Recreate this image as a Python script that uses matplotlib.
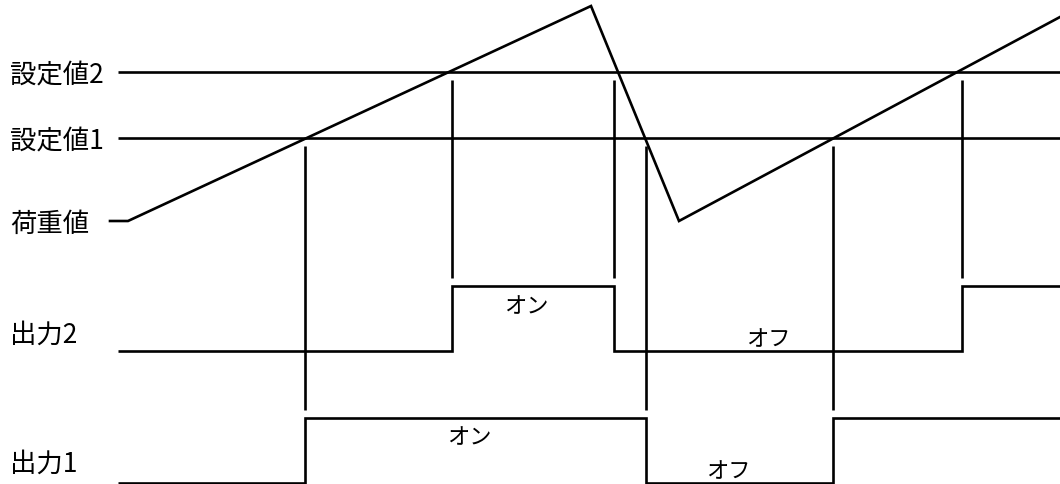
import matplotlib
matplotlib.use("Agg")
import matplotlib.pyplot as plt
import numpy as np

plt.rcParams['font.family'] = ['Noto Sans CJK JP', 'DejaVu Sans']

# ---- data (time units, load units) ----
load_t = [0, 18, 481, 569, 950]          # load waveform vertices (time)
load_v = [0, 0, 215, 0, 204]             # load value at vertices
setpoint1 = 83
setpoint2 = 149
t_start, t_end = 8, 950

# output switching edges (time) and states
out2_edges = [0, 342, 504, 852, 950]
out2_states = [0, 1, 0, 1]
out1_edges = [0, 195, 536, 723, 950]
out1_states = [0, 1, 0, 1]

row_labels = ["設定値2", "設定値1", "荷重値", "出力2", "出力1"]
on_label, off_label = "オン", "オフ"

# ---- layout ----
W, H = 1060, 485
fig = plt.figure(figsize=(W / 100, H / 100), dpi=100)
ax = fig.add_axes([0, 0, 1, 1])
ax.set_xlim(-110, 950)
ax.set_ylim(-263, 222)
ax.axis('off')

lw = 1.9
k = 'black'

# setpoint lines
ax.plot([t_start, t_end], [setpoint2] * 2, color=k, lw=lw, solid_capstyle='butt')
ax.plot([t_start, t_end], [setpoint1] * 2, color=k, lw=lw, solid_capstyle='butt')
# load waveform
ax.plot(load_t, load_v, color=k, lw=lw, solid_joinstyle='miter')

# output lanes (baseline, amplitude)
out2_base, out1_base, amp = -130, -262, 65
gap = 8

def draw_output(edges, states, base):
    xs, ys = [], []
    xs.append(t_start)
    ys.append(base + amp * states[0])
    for i, s in enumerate(states):
        y = base + amp * s
        if i > 0:
            xs.append(edges[i]); ys.append(y)
        xs.append(edges[i + 1]); ys.append(y)
    ax.plot(xs, ys, color=k, lw=lw, solid_joinstyle='miter', solid_capstyle='butt')

draw_output(out2_edges, out2_states, out2_base)
draw_output(out1_edges, out1_states, out1_base)

# guide verticals from setpoint lines down to outputs
for t in out2_edges[1:-1]:
    ax.plot([t, t], [setpoint2 - gap, out2_base + amp + gap], color=k, lw=lw, solid_capstyle='butt')
for t in out1_edges[1:-1]:
    ax.plot([t, t], [setpoint1 - gap, out1_base + amp + gap], color=k, lw=lw, solid_capstyle='butt')

# row labels
fs = 19
lab_x = -100
ax.text(lab_x, setpoint2 - 3, row_labels[0], fontsize=fs, va='center', ha='left')
ax.text(lab_x, setpoint1 - 3, row_labels[1], fontsize=fs, va='center', ha='left')
ax.text(lab_x, -2, row_labels[2], fontsize=fs, va='center', ha='left')
ax.text(lab_x, out2_base + 17, row_labels[3], fontsize=fs, va='center', ha='left')
ax.text(lab_x, out1_base + 20, row_labels[4], fontsize=fs, va='center', ha='left')

# on/off annotations
fs2 = 16
ax.text(416, -85, on_label, fontsize=fs2, va='center', ha='center')
ax.text(658, -118, off_label, fontsize=fs2, va='center', ha='center')
ax.text(359, -216, on_label, fontsize=fs2, va='center', ha='center')
ax.text(618, -250, off_label, fontsize=fs2, va='center', ha='center')

fig.savefig("out.png", dpi=100, facecolor='white')
